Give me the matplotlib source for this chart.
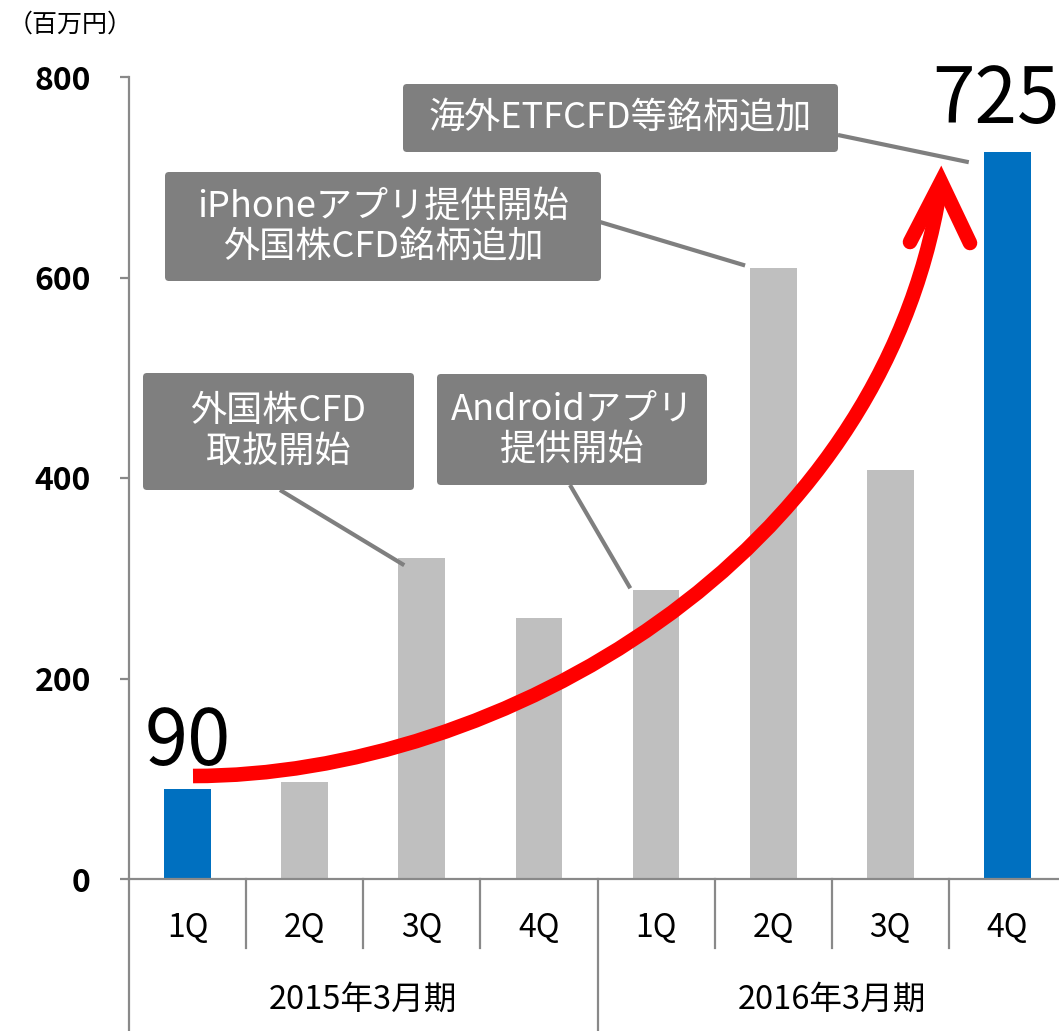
import numpy as np
import matplotlib.pyplot as plt
from matplotlib.path import Path
from matplotlib.patches import PathPatch, FancyBboxPatch, ConnectionPatch
from matplotlib.transforms import Affine2D

plt.rcParams['font.family'] = ['Noto Sans CJK JP', 'DejaVu Sans']

# データ
quarters = ['1Q', '2Q', '3Q', '4Q', '1Q', '2Q', '3Q', '4Q']
periods = ['2015年3月期', '2016年3月期']
sales = [90, 97, 320, 260, 288, 609, 408, 725]
highlight = [True, False, False, False, False, False, False, True]
yticks = [0, 200, 400, 600, 800]
unit_label = '（百万円）'

notes = ['外国株CFD\n取扱開始', 'Androidアプリ\n提供開始',
         'iPhoneアプリ提供開始\n外国株CFD銘柄追加', '海外ETFCFD等銘柄追加']
note_bar = [2, 4, 5, 7]

BLUE = '#0070C0'
GRAY = '#BFBFBF'
DARK = '#7F7F7F'
AXIS = '#898989'

W, H = 1059, 1031
fig = plt.figure(figsize=(W / 100, H / 100), dpi=100)
# ピクセル座標 (左上原点)
px = Affine2D().scale(1 / W, -1 / H).translate(0, 1) + fig.transFigure

ax = fig.add_axes([129 / W, 152 / H, 937 / W, 802 / H])
x = np.arange(len(sales))
colors = [BLUE if h else GRAY for h in highlight]
ax.bar(x, sales, width=0.4, color=colors, zorder=2)
ax.set_xlim(-0.5, 7.5)
ax.set_ylim(0, 800)

for s in ['top', 'right']:
    ax.spines[s].set_visible(False)
for s in ['left', 'bottom']:
    ax.spines[s].set_color(AXIS)
    ax.spines[s].set_linewidth(1.6)

ax.set_yticks(yticks)
ax.set_yticklabels([str(v) for v in yticks], fontsize=23, fontweight='bold')
ax.tick_params(axis='y', length=6.5, width=1.6, color=AXIS, pad=21)
ax.set_xticks([])

# 区切り線と軸ラベル
xt = ax.get_xaxis_transform()
for b in [0.5, 1.5, 2.5, 4.5, 5.5, 6.5]:
    ax.plot([b, b], [0, -0.086], color=AXIS, lw=1.6, transform=xt, clip_on=False)
for b in [-0.5, 3.5, 7.5]:
    ax.plot([b, b], [0, -0.2], color=AXIS, lw=1.6, transform=xt, clip_on=False)
for i, q in enumerate(quarters):
    ax.text(i, -0.061, q, transform=xt, ha='center', va='center', fontsize=23)
for j, p in enumerate(periods):
    ax.text(1.5 + 4 * j, -0.151, p, transform=xt, ha='center', va='center', fontsize=23.5)

fig.text(8, 25, unit_label, transform=px, ha='left', va='center', fontsize=18)

# 数値ラベル
ax.annotate(str(sales[0]), xy=(0, sales[0]), xytext=(0, 17), textcoords='offset points',
            ha='center', va='baseline', fontsize=56)
ax.annotate(str(sales[7]), xy=(7, sales[7]), xytext=(-8, 21), textcoords='offset points',
            ha='center', va='baseline', fontsize=55)

# 吹き出し
boxes = [(143, 373, 414, 490), (437, 374, 707, 485), (165, 172, 601, 281), (403, 84, 838, 152)]
starts = [(280, 490), (570, 485), (600, 222), (838, 135)]
ends = [(-0.15, -7), (-0.22, 2), (-0.24, 3), (-0.33, -10)]
for k, txt in enumerate(notes):
    x0, y0, x1, y1 = boxes[k]
    i = note_bar[k]
    con = ConnectionPatch(xyA=starts[k], coordsA=px,
                          xyB=(i + ends[k][0], sales[i] + ends[k][1]), coordsB=ax.transData,
                          color=DARK, lw=3, capstyle='butt', zorder=3)
    fig.add_artist(con)
    box = FancyBboxPatch((x0, y0), x1 - x0, y1 - y0, boxstyle='round,pad=0,rounding_size=4',
                         transform=px, facecolor=DARK, edgecolor='none', zorder=4)
    fig.add_artist(box)
    fig.text((x0 + x1) / 2, (y0 + y1) / 2, txt, transform=px, ha='center', va='center',
             color='white', fontsize=26, linespacing=1.15, zorder=5)

# 赤い矢印
shaft = Path([(193, 776), (500, 776), (880, 560), (940, 190)],
             [Path.MOVETO, Path.CURVE4, Path.CURVE4, Path.CURVE4])
fig.add_artist(PathPatch(shaft, transform=px, fill=False, edgecolor='#FF0000', lw=10.5,
                         capstyle='butt', zorder=6))
head = Path([(910, 242), (941, 182), (970, 243)])
fig.add_artist(PathPatch(head, transform=px, fill=False, edgecolor='#FF0000', lw=10.5,
                         capstyle='round', joinstyle='miter', zorder=6))

plt.savefig('out.png', dpi=100)
